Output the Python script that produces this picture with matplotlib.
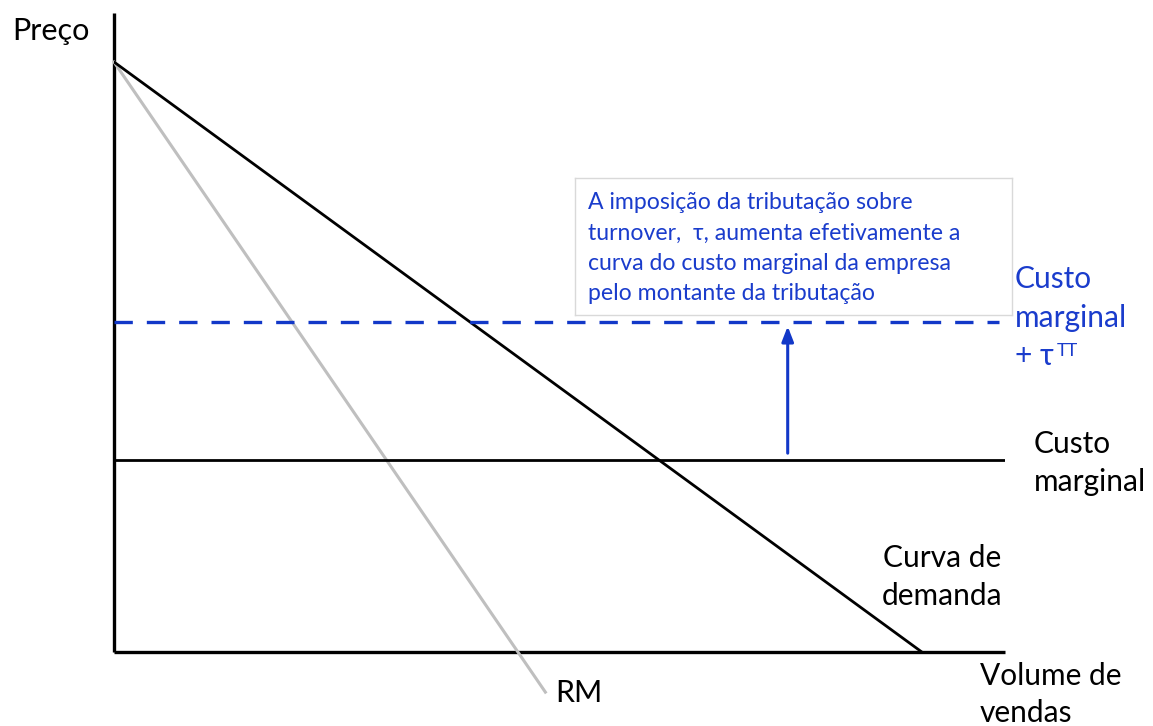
import matplotlib
matplotlib.use("Agg")
import matplotlib.pyplot as plt
import numpy as np

plt.rcParams['font.family'] = ['Lato', 'DejaVu Sans']

# Economic model (arbitrary units)
demand_intercept = 10.0      # price at Q = 0
demand_qmax = 10.0           # quantity at P = 0
marginal_cost = 3.25
tax = 2.35                   # shift of marginal cost by the turnover tax
arrow_q = 8.34
x_max = 11.03
y_max = 10.83
rm_end_price = -0.68

label_price = ["Preço"]
label_volume = ["Volume de", "vendas"]
label_rm = ["RM"]
label_mc = ["Custo", "marginal"]
label_demand = ["Curva de", "demanda"]
label_mc_tax = ["Custo", "marginal", "+ τ"]
label_mc_tax_sup = "TT"
box_lines = ["A imposição da tributação sobre",
             "turnover,  τ, aumenta efetivamente a",
             "curva do custo marginal da empresa",
             "pelo montante da tributação"]

W, H = 1153, 726
fig = plt.figure(figsize=(W / 100, H / 100), dpi=100)
ax = fig.add_axes([114 / W, 1 - 652 / H, 891 / W, 639 / H])
ax.set_xlim(0, x_max)
ax.set_ylim(0, y_max)
ax.axis('off')

def fp(x, y):
    return (x / W, 1 - y / H)

blue = '#1238c8'
tblue = '#1a3ccc'

def lines(x, y0, step, texts, size, color, ha='left'):
    out = []
    for i, s in enumerate(texts):
        out.append(fig.text(*fp(x, y0 + i * step), s, fontsize=size, color=color,
                            va='baseline', ha=ha))
    return out

# axes
ax.plot([0, 0], [0, y_max], color='black', lw=2.4, solid_capstyle='butt', clip_on=False)
ax.plot([0, x_max], [0, 0], color='black', lw=2.4, solid_capstyle='butt', clip_on=False)

# RM (marginal revenue) line: P = a - 2bQ
b = demand_intercept / demand_qmax
q_rm = np.array([0, (demand_intercept - rm_end_price) / (2 * b)])
ax.plot(q_rm, demand_intercept - 2 * b * q_rm, color='#bfbfbf', lw=2.2, clip_on=False, zorder=2)

# demand
q_d = np.array([0, demand_qmax])
ax.plot(q_d, demand_intercept - b * q_d, color='black', lw=2.0, zorder=3)

# marginal cost
ax.plot([0, x_max], [marginal_cost, marginal_cost], color='black', lw=2.0, zorder=3)

# marginal cost + tax (dashed)
ax.plot([0, x_max - 0.07], [marginal_cost + tax] * 2, color=blue, lw=2.4,
        dashes=(5.5, 4.2), zorder=3)

# arrow
ax.annotate('', xy=(arrow_q, marginal_cost + tax - 0.08), xytext=(arrow_q, marginal_cost + 0.12),
            arrowprops=dict(arrowstyle='-|>,head_width=0.35,head_length=0.9', color=blue, lw=2.2,
                            shrinkA=0, shrinkB=0))

# text box
ax_box = fig.add_axes([575 / W, 1 - 315 / H, (1012 - 575) / W, (315 - 178) / H])
ax_box.set_xticks([]); ax_box.set_yticks([])
for s in ax_box.spines.values():
    s.set_color('#d9d9d9'); s.set_linewidth(1.0)
ax_box.set_facecolor('white')
lines(588, 209, 30.5, box_lines, 16.6, tblue)

# labels
lines(12, 40, 0, label_price, 22, 'black')
lines(555, 702, 0, label_rm, 22, 'black')
lines(1034, 453, 37.5, label_mc, 21.5, 'black')
lines(942, 567, 38, label_demand, 21.5, 'black', ha='center')
lines(980, 685, 37, label_volume, 21.5, 'black')
tax_txt = lines(1015, 288, 38.5, label_mc_tax, 21.5, tblue)

# superscript placed right after the tau
fig.canvas.draw()
bb = tax_txt[-1].get_window_extent(renderer=fig.canvas.get_renderer())
fig.text((bb.x1 + 3) / W, 1 - 356 / H, label_mc_tax_sup, fontsize=13, color=tblue,
         va='baseline')

fig.savefig('out.png', dpi=100, facecolor='white')
